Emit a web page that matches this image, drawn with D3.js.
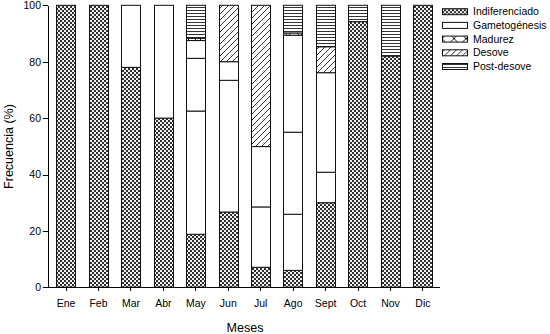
<!DOCTYPE html>
<html>
<head>
<meta charset="utf-8">
<script src="https://cdn.jsdelivr.net/npm/d3@7"></script>
<style>
  body { margin: 0; background: #fff; }
  svg { font-family: "Liberation Sans", Arial, sans-serif; }
  .axis path, .axis line { stroke: #000; shape-rendering: crispEdges; }
  .axis text { font-size: 10.5px; fill: #000; }
</style>
</head>
<body>
<div id="chart"></div>
<script>
// data (percent per month)
const months = ["Ene", "Feb", "Mar", "Abr", "May", "Jun", "Jul", "Ago", "Sept", "Oct", "Nov", "Dic"];
const categories = ["Indiferenciado", "Gametogénesis", "Madurez", "Desove", "Post-desove"];
const yTicks = [0, 20, 40, 60, 80, 100];

const indiferenciado = [100, 100, 78, 60, 18.8, 26.7, 7.1, 6.0, 30.0, 94.2, 82.0, 100];
// gametogénesis is drawn as several white sub-segments in some months
const gametogenesis = [[], [], [22], [40], [43.7, 18.7, 6.3], [46.7, 6.6], [21.4, 21.4], [19.9, 29.1, 34.4], [10.8, 35.3], [], [], []];
const madurez = [0, 0, 0, 0, 0.8, 0, 0, 0.8, 0, 0, 0, 0];
const desove = [0, 0, 0, 0, 0, 20.0, 50.1, 0, 9.2, 0, 0, 0];
const postDesove = [0, 0, 0, 0, 11.7, 0, 0, 9.8, 14.7, 5.8, 18.0, 0];

const W = 550, H = 334;
const svg = d3.select("#chart").append("svg")
  .attr("width", W)
  .attr("height", H);

// fill patterns
const defs = svg.append("defs");

let p = defs.append("pattern").attr("id", "pat-indif")
  .attr("patternUnits", "userSpaceOnUse").attr("width", 4).attr("height", 4);
p.append("rect").attr("width", 4).attr("height", 4).attr("fill", "#9a9a9a");
p.append("circle").attr("cx", 1).attr("cy", 1).attr("r", 0.95).attr("fill", "#000");
p.append("circle").attr("cx", 3).attr("cy", 3).attr("r", 0.95).attr("fill", "#000");
p.append("circle").attr("cx", 3).attr("cy", 1).attr("r", 1.05).attr("fill", "#fff");
p.append("circle").attr("cx", 1).attr("cy", 3).attr("r", 1.05).attr("fill", "#fff");

defs.append("pattern").attr("id", "pat-gameto")
  .attr("patternUnits", "userSpaceOnUse").attr("width", 4).attr("height", 4)
  .append("rect").attr("width", 4).attr("height", 4).attr("fill", "#fff");

p = defs.append("pattern").attr("id", "pat-madurez")
  .attr("patternUnits", "userSpaceOnUse").attr("width", 12).attr("height", 12);
p.append("rect").attr("width", 12).attr("height", 12).attr("fill", "#fff");
p.append("path").attr("d", "M0,0L12,12M12,0L0,12").attr("stroke", "#000").attr("stroke-width", 0.9);

p = defs.append("pattern").attr("id", "pat-desove")
  .attr("patternUnits", "userSpaceOnUse").attr("width", 6).attr("height", 6);
p.append("rect").attr("width", 6).attr("height", 6).attr("fill", "#fff");
p.append("path").attr("d", "M-1,1L1,-1M0,6L6,0M5,7L7,5").attr("stroke", "#000").attr("stroke-width", 0.8);

p = defs.append("pattern").attr("id", "pat-post")
  .attr("patternUnits", "userSpaceOnUse").attr("width", 4).attr("height", 3);
p.append("rect").attr("width", 4).attr("height", 3).attr("fill", "#fff");
p.append("line").attr("x1", 0).attr("x2", 4).attr("y1", 1.5).attr("y2", 1.5)
  .attr("stroke", "#000").attr("stroke-width", 0.8);

const fills = {
  "Indiferenciado": "url(#pat-indif)",
  "Gametogénesis": "url(#pat-gameto)",
  "Madurez": "url(#pat-madurez)",
  "Desove": "url(#pat-desove)",
  "Post-desove": "url(#pat-post)"
};

// scales
const x = d3.scaleBand()
  .domain(months)
  .range([49.5, 439.5])
  .paddingInner(0.4)
  .paddingOuter(0.21);

const y = d3.scaleLinear()
  .domain([0, 100])
  .range([287.3, 5.3]);

// stack segments per month
const segments = [];
months.forEach((m, i) => {
  let base = 0;
  const push = (cat, v) => {
    if (v > 0) {
      segments.push({ month: m, cat: cat, y0: base, y1: base + v });
      base += v;
    }
  };
  push("Indiferenciado", indiferenciado[i]);
  gametogenesis[i].forEach(v => push("Gametogénesis", v));
  push("Madurez", madurez[i]);
  push("Desove", desove[i]);
  push("Post-desove", postDesove[i]);
});

svg.append("g")
  .selectAll("rect")
  .data(segments)
  .join("rect")
  .attr("x", d => Math.round(x(d.month)) + 0.5)
  .attr("width", Math.round(x.bandwidth()))
  .attr("y", d => y(d.y1))
  .attr("height", d => y(d.y0) - y(d.y1))
  .attr("fill", d => fills[d.cat])
  .attr("stroke", "#111")
  .attr("stroke-width", 1);

// axes
svg.append("g")
  .attr("class", "axis x-axis")
  .attr("transform", `translate(0, ${y(0)})`)
  .call(d3.axisBottom(x).tickSize(4).tickSizeOuter(0).tickPadding(8));

svg.append("g")
  .attr("class", "axis y-axis")
  .attr("transform", "translate(48, 0)")
  .call(d3.axisLeft(y).tickValues(yTicks).tickSize(5).tickSizeOuter(0).tickPadding(2));

svg.selectAll(".x-axis .domain").attr("d", `M${46},0H${440}`);

// axis titles
svg.append("text")
  .attr("x", 245)
  .attr("y", 331.5)
  .attr("text-anchor", "middle")
  .style("font-size", "12.5px")
  .text("Meses");

svg.append("text")
  .attr("transform", "translate(13, 146.5) rotate(-90)")
  .attr("text-anchor", "middle")
  .style("font-size", "12.5px")
  .text("Frecuencia (%)");

// legend
const legend = svg.append("g")
  .selectAll("g")
  .data(categories)
  .join("g")
  .attr("transform", (d, i) => `translate(442, ${11.2 + i * 13.7})`);

legend.append("rect")
  .attr("x", 0.5)
  .attr("y", -2.5)
  .attr("width", 25)
  .attr("height", 6)
  .attr("fill", d => fills[d])
  .attr("stroke", "#111");

legend.append("text")
  .attr("x", 31)
  .attr("y", 0.5)
  .attr("dy", "0.35em")
  .style("font-size", "10.5px")
  .text(d => d);
</script>
</body>
</html>
